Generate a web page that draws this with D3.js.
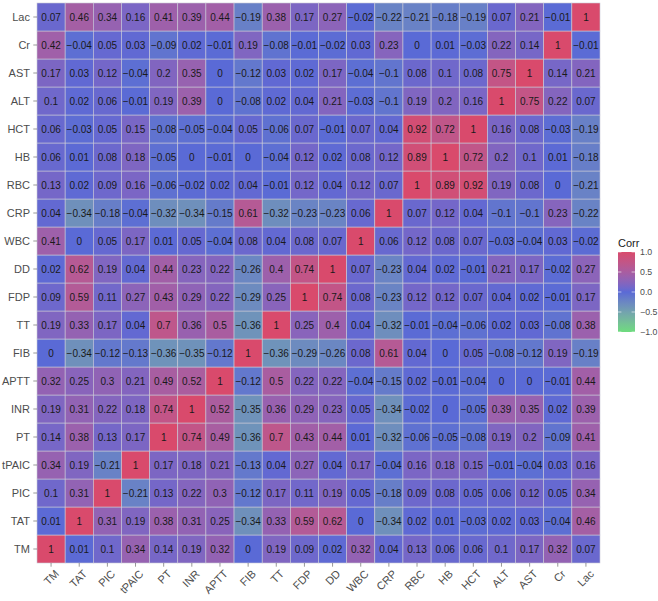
<!DOCTYPE html>
<html>
<head>
<meta charset="utf-8">
<script src="https://cdn.jsdelivr.net/npm/d3@7.9.0/dist/d3.min.js"></script>
<style>
  body { margin: 0; background: #fff; }
  svg { font-family: "Liberation Sans", Arial, sans-serif; }
</style>
</head>
<body>
<svg id="chart" width="658" height="601"></svg>
<script>
// variables, in axis order (x left->right, y bottom->top)
const vars = ['TM', 'TAT', 'PIC', 'tPAIC', 'PT', 'INR', 'APTT', 'FIB', 'TT', 'FDP',
    'DD', 'WBC', 'CRP', 'RBC', 'HB', 'HCT', 'ALT', 'AST', 'Cr', 'Lac'];

// one row per y variable (same order as vars), values along the x variables
const corr = [
    [1, 0.01, 0.1, 0.34, 0.14, 0.19, 0.32, 0, 0.19, 0.09, 0.02, 0.32, 0.04, 0.13, 0.06, 0.06, 0.1, 0.17, 0.32, 0.07],          // TM
    [0.01, 1, 0.31, 0.19, 0.38, 0.31, 0.25, -0.34, 0.33, 0.59, 0.62, 0, -0.34, 0.02, 0.01, -0.03, 0.02, 0.03, -0.04, 0.46],    // TAT
    [0.1, 0.31, 1, -0.21, 0.13, 0.22, 0.3, -0.12, 0.17, 0.11, 0.19, 0.05, -0.18, 0.09, 0.08, 0.05, 0.06, 0.12, 0.05, 0.34],    // PIC
    [0.34, 0.19, -0.21, 1, 0.17, 0.18, 0.21, -0.13, 0.04, 0.27, 0.04, 0.17, -0.04, 0.16, 0.18, 0.15, -0.01, -0.04, 0.03, 0.16], // tPAIC
    [0.14, 0.38, 0.13, 0.17, 1, 0.74, 0.49, -0.36, 0.7, 0.43, 0.44, 0.01, -0.32, -0.06, -0.05, -0.08, 0.19, 0.2, -0.09, 0.41], // PT
    [0.19, 0.31, 0.22, 0.18, 0.74, 1, 0.52, -0.35, 0.36, 0.29, 0.23, 0.05, -0.34, -0.02, 0, -0.05, 0.39, 0.35, 0.02, 0.39],    // INR
    [0.32, 0.25, 0.3, 0.21, 0.49, 0.52, 1, -0.12, 0.5, 0.22, 0.22, -0.04, -0.15, 0.02, -0.01, -0.04, 0, 0, -0.01, 0.44],       // APTT
    [0, -0.34, -0.12, -0.13, -0.36, -0.35, -0.12, 1, -0.36, -0.29, -0.26, 0.08, 0.61, 0.04, 0, 0.05, -0.08, -0.12, 0.19, -0.19], // FIB
    [0.19, 0.33, 0.17, 0.04, 0.7, 0.36, 0.5, -0.36, 1, 0.25, 0.4, 0.04, -0.32, -0.01, -0.04, -0.06, 0.02, 0.03, -0.08, 0.38],  // TT
    [0.09, 0.59, 0.11, 0.27, 0.43, 0.29, 0.22, -0.29, 0.25, 1, 0.74, 0.08, -0.23, 0.12, 0.12, 0.07, 0.04, 0.02, -0.01, 0.17],  // FDP
    [0.02, 0.62, 0.19, 0.04, 0.44, 0.23, 0.22, -0.26, 0.4, 0.74, 1, 0.07, -0.23, 0.04, 0.02, -0.01, 0.21, 0.17, -0.02, 0.27],  // DD
    [0.41, 0, 0.05, 0.17, 0.01, 0.05, -0.04, 0.08, 0.04, 0.08, 0.07, 1, 0.06, 0.12, 0.08, 0.07, -0.03, -0.04, 0.03, -0.02],    // WBC
    [0.04, -0.34, -0.18, -0.04, -0.32, -0.34, -0.15, 0.61, -0.32, -0.23, -0.23, 0.06, 1, 0.07, 0.12, 0.04, -0.1, -0.1, 0.23, -0.22], // CRP
    [0.13, 0.02, 0.09, 0.16, -0.06, -0.02, 0.02, 0.04, -0.01, 0.12, 0.04, 0.12, 0.07, 1, 0.89, 0.92, 0.19, 0.08, 0, -0.21],    // RBC
    [0.06, 0.01, 0.08, 0.18, -0.05, 0, -0.01, 0, -0.04, 0.12, 0.02, 0.08, 0.12, 0.89, 1, 0.72, 0.2, 0.1, 0.01, -0.18],         // HB
    [0.06, -0.03, 0.05, 0.15, -0.08, -0.05, -0.04, 0.05, -0.06, 0.07, -0.01, 0.07, 0.04, 0.92, 0.72, 1, 0.16, 0.08, -0.03, -0.19], // HCT
    [0.1, 0.02, 0.06, -0.01, 0.19, 0.39, 0, -0.08, 0.02, 0.04, 0.21, -0.03, -0.1, 0.19, 0.2, 0.16, 1, 0.75, 0.22, 0.07],       // ALT
    [0.17, 0.03, 0.12, -0.04, 0.2, 0.35, 0, -0.12, 0.03, 0.02, 0.17, -0.04, -0.1, 0.08, 0.1, 0.08, 0.75, 1, 0.14, 0.21],       // AST
    [0.42, -0.04, 0.05, 0.03, -0.09, 0.02, -0.01, 0.19, -0.08, -0.01, -0.02, 0.03, 0.23, 0, 0.01, -0.03, 0.22, 0.14, 1, -0.01], // Cr
    [0.07, 0.46, 0.34, 0.16, 0.41, 0.39, 0.44, -0.19, 0.38, 0.17, 0.27, -0.02, -0.22, -0.21, -0.18, -0.19, 0.07, 0.21, -0.01, 1] // Lac
];

const legendTicks = [1, 0.5, 0, -0.5, -1];

const svg = d3.select('#chart');

const plot = { left: 37, right: 600, top: 3, bottom: 563 };

const x = d3.scaleBand().domain(vars).range([plot.left, plot.right]);
const y = d3.scaleBand().domain(vars).range([plot.bottom, plot.top]);

const color = d3.scaleLinear()
    .domain([-1, 0, 1])
    .range(['#6edc7e', '#5a6ad6', '#d94a6c'])
    .interpolate(d3.interpolateLab);

const fmt = (v) => {
    let s = String(Math.round(v * 100) / 100);
    return s.replace('-', '\u2212');
};

let cells = [];
corr.forEach((row, i) => {
    row.forEach((v, j) => {
        cells.push({ xv: vars[j], yv: vars[i], value: v });
    });
});

// tiles
svg.append('g')
    .selectAll('rect')
    .data(cells)
    .join('rect')
    .attr('x', (d) => x(d.xv))
    .attr('y', (d) => y(d.yv))
    .attr('width', x.bandwidth())
    .attr('height', y.bandwidth())
    .attr('fill', (d) => color(d.value))
    .attr('stroke', '#c9c9d6')
    .attr('stroke-width', 0.6);

// labels in the tiles
svg.append('g')
    .selectAll('text')
    .data(cells)
    .join('text')
    .attr('x', (d) => x(d.xv) + x.bandwidth() / 2)
    .attr('y', (d) => y(d.yv) + y.bandwidth() / 2)
    .attr('dy', '0.35em')
    .attr('text-anchor', 'middle')
    .attr('font-size', 10)
    .attr('fill', '#1a1a1a')
    .text((d) => fmt(d.value));

// x axis
const xAxis = svg.append('g');
vars.forEach((v) => {
    let cx = x(v) + x.bandwidth() / 2;
    xAxis.append('line')
        .attr('x1', cx).attr('x2', cx)
        .attr('y1', plot.bottom).attr('y2', plot.bottom + 3.7)
        .attr('stroke', '#333').attr('stroke-width', 0.5);
    xAxis.append('text')
        .attr('transform', `translate(${cx + 3},${plot.bottom + 6}) rotate(-45)`)
        .attr('text-anchor', 'end')
        .attr('dy', '0.72em')
        .attr('font-size', 11)
        .attr('fill', '#4d4d4d')
        .text(v);
});

// y axis
const yAxis = svg.append('g');
vars.forEach((v) => {
    let cy = y(v) + y.bandwidth() / 2;
    yAxis.append('line')
        .attr('x1', plot.left - 3.7).attr('x2', plot.left)
        .attr('y1', cy).attr('y2', cy)
        .attr('stroke', '#333').attr('stroke-width', 0.5);
    yAxis.append('text')
        .attr('x', plot.left - 7)
        .attr('y', cy)
        .attr('dy', '0.35em')
        .attr('text-anchor', 'end')
        .attr('font-size', 11)
        .attr('fill', '#4d4d4d')
        .text(v);
});

// legend
const lg = { x: 618, top: 252, w: 17, h: 80 };
const ly = d3.scaleLinear().domain([1, -1]).range([lg.top, lg.top + lg.h]);

const grad = svg.append('defs').append('linearGradient')
    .attr('id', 'corrGrad')
    .attr('x1', 0).attr('y1', 0).attr('x2', 0).attr('y2', 1);
d3.range(0, 1.0001, 0.05).forEach((t) => {
    grad.append('stop')
        .attr('offset', t)
        .attr('stop-color', color(1 - 2 * t));
});

svg.append('text')
    .attr('x', lg.x)
    .attr('y', lg.top - 5)
    .attr('font-size', 11)
    .attr('fill', '#1a1a1a')
    .text('Corr');

svg.append('rect')
    .attr('x', lg.x).attr('y', lg.top)
    .attr('width', lg.w).attr('height', lg.h)
    .attr('fill', 'url(#corrGrad)');

legendTicks.forEach((t) => {
    let ty = ly(t);
    [[lg.x, lg.x + 3.4], [lg.x + lg.w - 3.4, lg.x + lg.w]].forEach(([a, b]) => {
        svg.append('line')
            .attr('x1', a).attr('x2', b)
            .attr('y1', ty).attr('y2', ty)
            .attr('stroke', '#fff').attr('stroke-width', 0.6);
    });
    svg.append('text')
        .attr('x', lg.x + lg.w + 5)
        .attr('y', ty)
        .attr('dy', '0.35em')
        .attr('font-size', 8.8)
        .attr('fill', '#4d4d4d')
        .text(d3.format('.1f')(t).replace('-', '\u2212'));
});
</script>
</body>
</html>
